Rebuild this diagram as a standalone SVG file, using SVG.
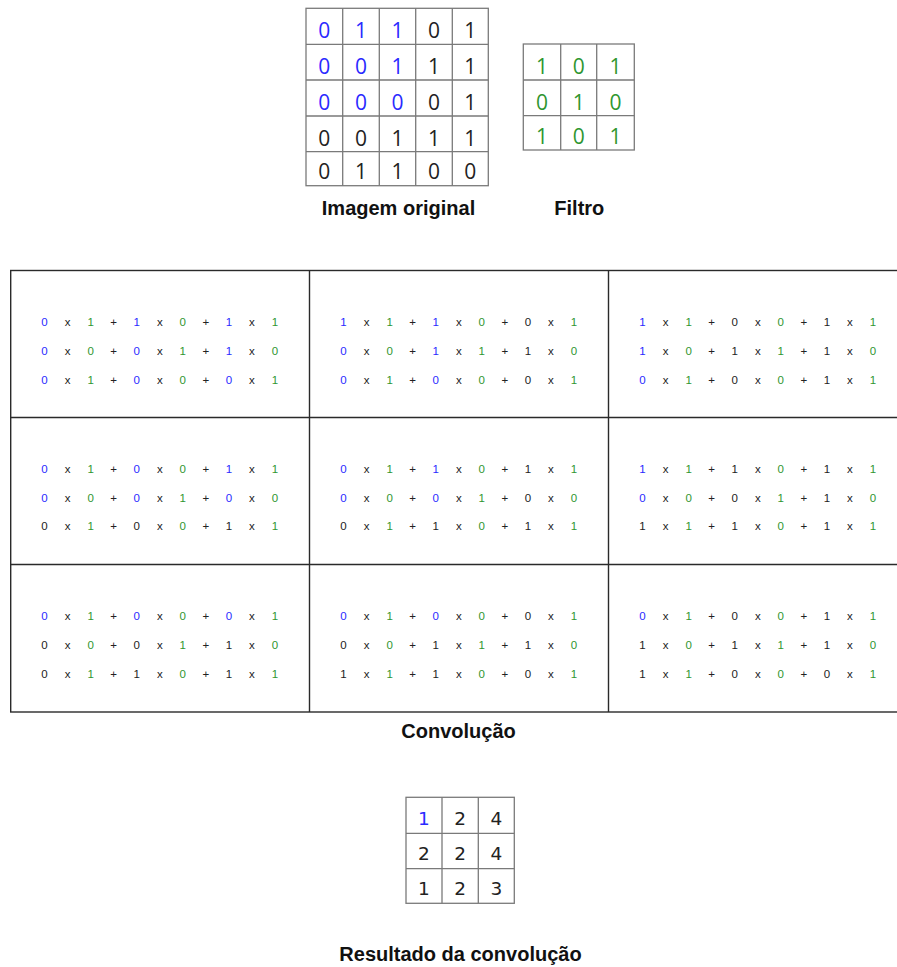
<svg xmlns="http://www.w3.org/2000/svg" width="897" height="967" viewBox="0 0 897 967">
<style>
.bg{fill:#fff}
.grid{fill:none;stroke:#7a7a7a;stroke-width:1.3}
.cgrid{fill:none;stroke:#2a2a2a;stroke-width:1.4}
.d{font-family:"Open Sans","DejaVu Sans",sans-serif;font-size:21px;text-anchor:middle;fill:#222}
.r{font-family:"DejaVu Sans",sans-serif;font-size:18.5px;text-anchor:middle;fill:#222}
.s{font-family:"Liberation Sans",Arial,sans-serif;font-size:11.5px;text-anchor:middle;fill:#222}
.lbl{font-family:"Liberation Sans",Arial,sans-serif;font-size:20px;font-weight:bold;text-anchor:middle;fill:#111}
.b{fill:#2a2aff}
.g{fill:#2f962f}
</style>
<rect class="bg" x="0" y="0" width="897" height="967"/>

<g id="imagem-original">
<rect class="grid" x="306" y="8.3" width="182.3" height="177.4"/>
<path class="grid" d="M342.7 8.3V185.7M379.3 8.3V185.7M415.7 8.3V185.7M452.3 8.3V185.7M306 44.3H488.3M306 80H488.3M306 116H488.3M306 151.7H488.3"/>
<text class="d" x="324.3 361 397.5 434 470.3" y="38"><tspan class="b">011</tspan>01</text>
<text class="d" x="324.3 361 397.5 434 470.3" y="74"><tspan class="b">001</tspan>11</text>
<text class="d" x="324.3 361 397.5 434 470.3" y="110"><tspan class="b">000</tspan>01</text>
<text class="d" x="324.3 361 397.5 434 470.3" y="145.5">00111</text>
<text class="d" x="324.3 361 397.5 434 470.3" y="179">01100</text>
<text class="lbl" x="398.5" y="215">Imagem original</text>
</g>

<g id="filtro">
<rect class="grid" x="523.3" y="44" width="111" height="106"/>
<path class="grid" d="M560.7 44V150M596.7 44V150M523.3 80H634.3M523.3 115.7H634.3"/>
<text class="d g" x="542 578.7 615.5" y="74">101</text>
<text class="d g" x="542 578.7 615.5" y="110">010</text>
<text class="d g" x="542 578.7 615.5" y="143.5">101</text>
<text class="lbl" x="579.3" y="215">Filtro</text>
</g>

<g id="convolucao">
<rect class="cgrid" x="10.7" y="270.5" width="900" height="441.5"/>
<path class="cgrid" d="M309.5 270.5V712M608.5 270.5V712M10.7 417.5H897M10.7 564.5H897"/>

<g id="passo-1-1" transform="translate(10 270)">
<text class="s" x="34.5 57.5 80.6 103.7 126.7 149.8 172.8 195.9 218.9 241.9 265" y="56"><tspan class="b">0</tspan>x<tspan class="g">1</tspan>+<tspan class="b">1</tspan>x<tspan class="g">0</tspan>+<tspan class="b">1</tspan>x<tspan class="g">1</tspan></text>
<text class="s" x="34.5 57.5 80.6 103.7 126.7 149.8 172.8 195.9 218.9 241.9 265" y="85"><tspan class="b">0</tspan>x<tspan class="g">0</tspan>+<tspan class="b">0</tspan>x<tspan class="g">1</tspan>+<tspan class="b">1</tspan>x<tspan class="g">0</tspan></text>
<text class="s" x="34.5 57.5 80.6 103.7 126.7 149.8 172.8 195.9 218.9 241.9 265" y="113.5"><tspan class="b">0</tspan>x<tspan class="g">1</tspan>+<tspan class="b">0</tspan>x<tspan class="g">0</tspan>+<tspan class="b">0</tspan>x<tspan class="g">1</tspan></text>
</g>

<g id="passo-1-2" transform="translate(309 270)">
<text class="s" x="34.5 57.5 80.6 103.7 126.7 149.8 172.8 195.9 218.9 241.9 265" y="56"><tspan class="b">1</tspan>x<tspan class="g">1</tspan>+<tspan class="b">1</tspan>x<tspan class="g">0</tspan>+0x<tspan class="g">1</tspan></text>
<text class="s" x="34.5 57.5 80.6 103.7 126.7 149.8 172.8 195.9 218.9 241.9 265" y="85"><tspan class="b">0</tspan>x<tspan class="g">0</tspan>+<tspan class="b">1</tspan>x<tspan class="g">1</tspan>+1x<tspan class="g">0</tspan></text>
<text class="s" x="34.5 57.5 80.6 103.7 126.7 149.8 172.8 195.9 218.9 241.9 265" y="113.5"><tspan class="b">0</tspan>x<tspan class="g">1</tspan>+<tspan class="b">0</tspan>x<tspan class="g">0</tspan>+0x<tspan class="g">1</tspan></text>
</g>

<g id="passo-1-3" transform="translate(608 270)">
<text class="s" x="34.5 57.5 80.6 103.7 126.7 149.8 172.8 195.9 218.9 241.9 265" y="56"><tspan class="b">1</tspan>x<tspan class="g">1</tspan>+0x<tspan class="g">0</tspan>+1x<tspan class="g">1</tspan></text>
<text class="s" x="34.5 57.5 80.6 103.7 126.7 149.8 172.8 195.9 218.9 241.9 265" y="85"><tspan class="b">1</tspan>x<tspan class="g">0</tspan>+1x<tspan class="g">1</tspan>+1x<tspan class="g">0</tspan></text>
<text class="s" x="34.5 57.5 80.6 103.7 126.7 149.8 172.8 195.9 218.9 241.9 265" y="113.5"><tspan class="b">0</tspan>x<tspan class="g">1</tspan>+0x<tspan class="g">0</tspan>+1x<tspan class="g">1</tspan></text>
</g>

<g id="passo-2-1" transform="translate(10 417)">
<text class="s" x="34.5 57.5 80.6 103.7 126.7 149.8 172.8 195.9 218.9 241.9 265" y="55.5"><tspan class="b">0</tspan>x<tspan class="g">1</tspan>+<tspan class="b">0</tspan>x<tspan class="g">0</tspan>+<tspan class="b">1</tspan>x<tspan class="g">1</tspan></text>
<text class="s" x="34.5 57.5 80.6 103.7 126.7 149.8 172.8 195.9 218.9 241.9 265" y="84.5"><tspan class="b">0</tspan>x<tspan class="g">0</tspan>+<tspan class="b">0</tspan>x<tspan class="g">1</tspan>+<tspan class="b">0</tspan>x<tspan class="g">0</tspan></text>
<text class="s" x="34.5 57.5 80.6 103.7 126.7 149.8 172.8 195.9 218.9 241.9 265" y="113">0x<tspan class="g">1</tspan>+0x<tspan class="g">0</tspan>+1x<tspan class="g">1</tspan></text>
</g>

<g id="passo-2-2" transform="translate(309 417)">
<text class="s" x="34.5 57.5 80.6 103.7 126.7 149.8 172.8 195.9 218.9 241.9 265" y="55.5"><tspan class="b">0</tspan>x<tspan class="g">1</tspan>+<tspan class="b">1</tspan>x<tspan class="g">0</tspan>+1x<tspan class="g">1</tspan></text>
<text class="s" x="34.5 57.5 80.6 103.7 126.7 149.8 172.8 195.9 218.9 241.9 265" y="84.5"><tspan class="b">0</tspan>x<tspan class="g">0</tspan>+<tspan class="b">0</tspan>x<tspan class="g">1</tspan>+0x<tspan class="g">0</tspan></text>
<text class="s" x="34.5 57.5 80.6 103.7 126.7 149.8 172.8 195.9 218.9 241.9 265" y="113">0x<tspan class="g">1</tspan>+1x<tspan class="g">0</tspan>+1x<tspan class="g">1</tspan></text>
</g>

<g id="passo-2-3" transform="translate(608 417)">
<text class="s" x="34.5 57.5 80.6 103.7 126.7 149.8 172.8 195.9 218.9 241.9 265" y="55.5"><tspan class="b">1</tspan>x<tspan class="g">1</tspan>+1x<tspan class="g">0</tspan>+1x<tspan class="g">1</tspan></text>
<text class="s" x="34.5 57.5 80.6 103.7 126.7 149.8 172.8 195.9 218.9 241.9 265" y="84.5"><tspan class="b">0</tspan>x<tspan class="g">0</tspan>+0x<tspan class="g">1</tspan>+1x<tspan class="g">0</tspan></text>
<text class="s" x="34.5 57.5 80.6 103.7 126.7 149.8 172.8 195.9 218.9 241.9 265" y="113">1x<tspan class="g">1</tspan>+1x<tspan class="g">0</tspan>+1x<tspan class="g">1</tspan></text>
</g>

<g id="passo-3-1" transform="translate(10 564)">
<text class="s" x="34.5 57.5 80.6 103.7 126.7 149.8 172.8 195.9 218.9 241.9 265" y="56"><tspan class="b">0</tspan>x<tspan class="g">1</tspan>+<tspan class="b">0</tspan>x<tspan class="g">0</tspan>+<tspan class="b">0</tspan>x<tspan class="g">1</tspan></text>
<text class="s" x="34.5 57.5 80.6 103.7 126.7 149.8 172.8 195.9 218.9 241.9 265" y="85">0x<tspan class="g">0</tspan>+0x<tspan class="g">1</tspan>+1x<tspan class="g">0</tspan></text>
<text class="s" x="34.5 57.5 80.6 103.7 126.7 149.8 172.8 195.9 218.9 241.9 265" y="114">0x<tspan class="g">1</tspan>+1x<tspan class="g">0</tspan>+1x<tspan class="g">1</tspan></text>
</g>

<g id="passo-3-2" transform="translate(309 564)">
<text class="s" x="34.5 57.5 80.6 103.7 126.7 149.8 172.8 195.9 218.9 241.9 265" y="56"><tspan class="b">0</tspan>x<tspan class="g">1</tspan>+<tspan class="b">0</tspan>x<tspan class="g">0</tspan>+0x<tspan class="g">1</tspan></text>
<text class="s" x="34.5 57.5 80.6 103.7 126.7 149.8 172.8 195.9 218.9 241.9 265" y="85">0x<tspan class="g">0</tspan>+1x<tspan class="g">1</tspan>+1x<tspan class="g">0</tspan></text>
<text class="s" x="34.5 57.5 80.6 103.7 126.7 149.8 172.8 195.9 218.9 241.9 265" y="114">1x<tspan class="g">1</tspan>+1x<tspan class="g">0</tspan>+0x<tspan class="g">1</tspan></text>
</g>

<g id="passo-3-3" transform="translate(608 564)">
<text class="s" x="34.5 57.5 80.6 103.7 126.7 149.8 172.8 195.9 218.9 241.9 265" y="56"><tspan class="b">0</tspan>x<tspan class="g">1</tspan>+0x<tspan class="g">0</tspan>+1x<tspan class="g">1</tspan></text>
<text class="s" x="34.5 57.5 80.6 103.7 126.7 149.8 172.8 195.9 218.9 241.9 265" y="85">1x<tspan class="g">0</tspan>+1x<tspan class="g">1</tspan>+1x<tspan class="g">0</tspan></text>
<text class="s" x="34.5 57.5 80.6 103.7 126.7 149.8 172.8 195.9 218.9 241.9 265" y="114">1x<tspan class="g">1</tspan>+0x<tspan class="g">0</tspan>+0x<tspan class="g">1</tspan></text>
</g>

<text class="lbl" x="458.5" y="737.5">Convolução</text>
</g>

<g id="resultado">
<rect class="grid" x="406" y="797.3" width="108.3" height="106"/>
<path class="grid" d="M442 797.3V903.3M478.3 797.3V903.3M406 833.3H514.3M406 868.7H514.3"/>
<text class="r" x="424 460.2 496.3" y="825"><tspan class="b">1</tspan>24</text>
<text class="r" x="424 460.2 496.3" y="860">224</text>
<text class="r" x="424 460.2 496.3" y="895">123</text>
<text class="lbl" x="460.5" y="961">Resultado da convolução</text>
</g>
</svg>
